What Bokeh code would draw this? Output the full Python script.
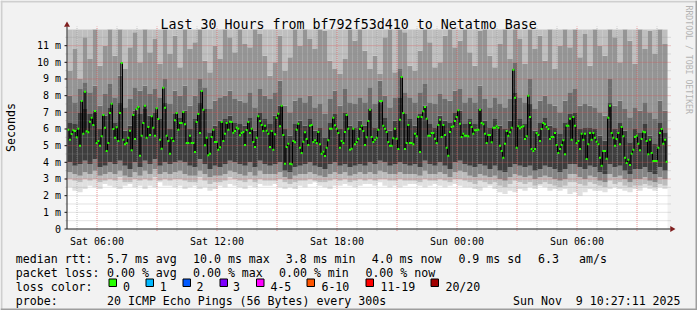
import math
from bokeh.plotting import figure
from bokeh.models import Range1d, Label
from bokeh.core.properties import value
from bokeh.embed import file_html
from bokeh.resources import INLINE

# ---------------- data ----------------
time_start_h = 4.525          # left edge of the graph, hours after Sat 00:00
span_h = 30.0
step_minutes = 5               # one median per 5-minute step
smoke_minutes = 15             # smoke resolution

median_ms = [
    # block 0
    5.96,5.36,5.7,5.92,5.88,5.5,6.02,5.0,7.68,5.72,
    8.24,5.86,5.8,6.44,6.68,6.24,7.08,5.16,5.28,5.0,
    5.56,6.84,6.08,4.68,5.16,6.96,7.52,6.0,5.48,6.1,
    5.28,6.96,9.96,5.36,5.08,5.16,5.48,5.9,4.72,6.84,
    5.4,7.2,7.32,4.4,5.6,6.36,7.4,5.48,6.12,5.64,
    6.76,6.08,5.6,7.24,6.6,5.36,4.82,8.48,7.28,5.6,
    # block 1
    5.28,4.52,5.44,5.28,6.52,6.96,5.96,6.36,6.36,7.02,
    6.28,5.16,5.16,5.6,5.16,5.16,4.62,6.42,6.9,5.76,
    8.28,7.16,5.02,5.48,4.42,4.52,5.52,5.96,5.22,5.22,
    4.76,4.9,6.42,5.28,5.72,6.36,5.96,6.44,6.42,5.78,
    5.88,6.08,6.02,5.62,5.76,5.82,5.04,5.94,6.42,5.76,
    6.02,5.22,4.92,5.48,6.76,6.48,6.24,5.88,6.2,5.9,
    # block 2
    5.72,4.92,5.88,4.76,5.68,6.68,6.92,6.16,7.4,5.64,
    3.92,4.92,5.12,3.92,3.88,5.28,5.2,5.96,6.32,4.88,
    4.56,5.24,5.8,5.4,5.04,6.2,6.24,5.22,5.32,5.16,
    5.82,5.08,4.52,4.64,4.38,4.88,5.32,6.02,6.02,6.68,
    6.22,6.02,5.76,4.88,5.28,5.16,5.82,6.84,6.02,4.76,
    4.82,6.02,5.08,5.22,5.42,6.0,6.2,5.88,5.04,5.5,
    # block 3
    6.48,7.16,5.52,5.22,5.36,5.48,5.96,7.68,7.68,6.2,
    6.02,5.82,5.22,5.0,5.0,5.44,6.02,5.42,4.8,6.56,
    9.12,6.96,4.8,5.16,6.24,5.16,5.16,5.08,5.72,5.56,
    6.72,4.62,6.72,7.06,7.32,6.62,5.6,5.6,5.76,5.76,
    5.42,5.16,6.24,6.56,5.52,6.24,5.64,4.88,4.4,5.82,
    6.12,6.16,6.48,6.72,7.12,6.32,5.52,5.72,5.6,5.6,
    # block 4
    5.56,6.36,6.12,5.72,5.92,5.92,5.96,7.16,6.36,6.28,
    5.72,5.16,5.64,5.64,5.2,6.08,6.08,6.16,6.08,5.0,
    4.68,4.28,5.12,5.88,5.6,5.8,6.08,9.56,7.88,4.88,
    6.16,6.04,6.12,6.16,5.4,5.56,8.0,6.72,4.8,4.68,
    4.8,5.76,5.64,5.28,6.0,6.36,6.28,6.12,6.0,5.4,
    5.52,5.52,5.76,5.04,4.56,4.8,5.04,5.32,4.48,6.2,
    # block 5
    6.2,6.62,5.36,6.72,6.2,5.16,5.28,4.8,5.72,5.36,
    5.72,4.2,5.08,5.76,5.36,5.76,5.48,5.24,5.08,4.28,
    3.8,4.68,4.68,4.22,6.68,7.4,5.76,5.48,5.0,5.4,
    5.76,5.08,6.12,5.56,4.28,3.96,4.16,3.84,4.52,4.76,
    5.52,5.6,5.12,4.72,5.4,5.84,5.8,5.28,4.48,5.36,
    4.56,4.08,4.08,4.08,4.88,5.76,6.0,5.12,5.36,4.04,
]

# smoke: ping-distribution boundaries per 15-minute column (ms)
ping_min = [
    2.5,2.3,2.2,2.4,2.6,2.5,2.4,2.7,2.6,2.5,2.4,2.6,2.7,2.5,2.6,2.4,2.6,2.5,2.8,2.6,
    2.6,2.5,2.6,2.4,2.5,2.6,2.4,2.5,2.3,2.4,2.6,2.5,2.7,2.6,2.5,2.4,2.6,2.5,2.7,2.6,
    2.6,2.7,2.5,2.4,2.5,2.4,2.6,2.5,2.7,2.8,2.6,2.5,2.4,2.6,2.6,2.7,2.6,2.5,2.6,2.7,
    2.7,2.6,2.8,2.6,2.5,2.6,2.5,2.6,2.7,2.7,2.6,2.5,2.6,2.7,2.6,2.5,2.6,2.7,2.6,2.5,
    2.5,2.4,2.3,2.5,2.6,2.4,2.2,2.1,2.3,2.2,2.4,2.3,2.5,2.4,2.6,2.5,2.3,2.4,2.3,2.4,
    2.1,2.2,2.0,2.2,2.4,2.3,2.3,2.2,2.4,2.5,2.4,2.3,2.2,2.4,2.3,2.5,2.4,2.3,2.5,2.4,
]
ping_p10 = [
    3.0,2.9,2.8,3.0,2.9,3.0,2.8,2.9,3.0,2.9,3.1,2.8,2.8,3.0,2.9,3.0,2.9,3.1,2.9,3.0,
    2.9,3.0,3.0,2.9,2.8,2.8,3.1,2.9,2.7,2.8,2.8,2.9,3.1,3.0,2.9,2.8,3.0,2.8,3.0,2.9,
    2.9,2.9,3.0,2.8,2.7,2.8,2.9,2.9,3.0,2.9,2.8,2.8,2.9,3.0,2.9,3.0,2.8,2.9,3.0,2.9,
    3.0,2.9,3.0,3.0,2.9,2.9,3.0,2.9,2.9,2.9,2.8,3.0,2.9,2.9,3.0,2.9,2.8,3.0,3.0,2.9,
    2.8,2.7,2.9,2.8,2.7,2.8,2.6,2.5,2.7,2.9,2.8,2.7,2.8,2.6,2.7,2.8,2.7,2.6,2.5,2.6,
    2.8,2.8,2.7,2.6,2.8,2.7,2.6,2.5,2.9,2.7,2.8,2.6,2.5,2.6,2.6,2.7,2.6,2.5,2.7,2.6,
]
ping_p20 = [
    3.4,3.3,3.2,3.4,3.3,3.5,3.2,3.3,3.4,3.3,3.5,3.2,3.1,3.4,3.2,3.5,3.3,3.6,3.3,3.4,
    3.3,3.4,3.5,3.3,3.2,3.2,3.5,3.3,3.1,3.2,3.2,3.3,3.5,3.4,3.3,3.2,3.4,3.2,3.5,3.3,
    3.3,3.3,3.4,3.1,3.0,3.2,3.3,3.3,3.4,3.3,3.2,3.1,3.3,3.4,3.3,3.4,3.2,3.3,3.4,3.3,
    3.4,3.3,3.5,3.4,3.3,3.3,3.4,3.3,3.3,3.3,3.2,3.5,3.3,3.3,3.4,3.3,3.1,3.4,3.5,3.4,
    3.2,3.1,3.3,3.2,3.1,3.2,3.0,2.9,3.1,3.3,3.2,3.1,3.2,3.0,3.1,3.2,3.1,3.0,2.9,3.0,
    3.3,3.3,3.1,3.0,3.2,3.1,2.9,2.8,3.3,3.1,3.2,3.0,2.8,3.0,3.0,3.1,2.9,2.8,3.1,3.0,
]
ping_p30 = [
    4.0,3.8,3.9,4.1,3.9,4.2,3.7,3.8,4.0,3.9,4.1,3.8,3.6,4.0,3.7,4.1,3.9,4.2,3.8,4.0,
    3.9,4.0,4.1,4.0,3.8,3.7,4.2,3.9,3.6,3.8,3.7,3.9,4.1,4.0,3.9,3.8,4.0,3.7,4.1,3.9,
    3.8,3.9,4.0,3.5,3.4,3.7,3.8,3.9,4.0,3.8,3.7,3.6,3.9,4.0,3.8,3.9,3.7,3.8,3.9,3.8,
    4.0,3.9,4.1,4.0,3.8,3.9,4.0,3.9,3.8,3.9,3.7,4.1,3.9,3.8,4.0,3.8,3.6,4.0,4.1,3.9,
    3.8,3.7,3.9,3.8,3.6,3.8,3.5,3.4,3.7,3.9,3.8,3.7,3.8,3.5,3.6,3.8,3.7,3.6,3.4,3.6,
    3.9,3.9,3.7,3.6,3.8,3.7,3.4,3.3,3.9,3.7,3.8,3.5,3.3,3.6,3.6,3.7,3.4,3.3,3.7,3.5,
]
ping_p70 = [
    6.4,6.3,7.0,7.2,6.9,7.0,6.0,6.8,7.3,6.4,7.6,5.9,6.2,7.1,6.9,7.2,6.8,7.0,6.6,7.6,
    6.0,6.9,6.7,7.1,6.0,6.6,7.6,7.2,5.8,6.2,6.5,6.6,6.8,6.4,6.3,6.2,6.7,5.9,7.0,6.6,
    6.3,6.8,7.4,6.0,5.6,6.3,6.5,6.2,6.6,5.9,6.1,5.5,6.4,6.9,6.0,7.0,6.2,6.1,6.5,6.2,
    7.2,6.1,7.6,6.7,5.9,6.5,7.9,6.9,6.6,6.2,6.9,7.4,6.3,6.1,6.8,6.5,6.4,7.0,7.1,6.3,
    6.6,6.3,7.2,6.5,6.1,6.6,6.2,6.0,6.5,8.2,6.6,6.3,7.5,5.9,6.4,6.7,6.2,6.1,5.7,6.4,
    6.9,7.0,6.0,6.1,6.1,6.0,5.6,5.3,7.6,6.0,6.4,5.9,5.2,6.0,5.8,6.3,5.6,5.1,6.4,5.8,
]
ping_p85 = [
    8.0,7.6,8.4,8.8,8.2,8.6,7.4,8.1,8.7,7.9,9.2,7.3,7.8,8.5,8.3,8.6,8.1,8.4,7.9,9.0,
    7.5,8.3,8.0,8.6,7.4,8.0,9.0,8.5,7.2,7.7,7.9,8.0,8.3,7.8,7.7,7.6,8.2,7.3,8.4,8.0,
    7.8,8.2,8.9,7.4,7.0,7.7,7.9,7.6,8.0,7.3,7.5,6.9,7.8,8.3,7.4,8.4,7.6,7.5,7.9,7.6,
    8.5,7.5,8.9,8.0,7.3,7.9,9.6,8.2,7.9,7.6,8.2,8.7,7.6,7.5,8.1,7.8,7.7,8.3,8.4,7.6,
    7.9,7.6,8.6,7.8,7.3,7.9,7.5,7.3,7.8,10.0,7.9,7.6,9.0,7.2,7.7,8.0,7.5,7.4,7.0,7.7,
    8.2,8.4,7.4,7.5,7.4,7.3,7.0,6.8,9.0,7.4,7.7,7.2,6.7,7.3,7.1,7.6,7.0,6.6,7.7,7.1,
]
ping_p95 = [
    9.5,10.8,9.0,11.5,10.2,12.5,9.8,11.0,12.5,10.4,12.5,9.6,10.9,11.8,10.0,12.2,10.6,11.4,9.9,12.5,
    10.5,11.6,9.7,12.5,10.8,11.2,12.5,10.1,9.4,11.0,10.2,12.0,11.5,10.6,12.3,11.1,10.9,12.5,11.7,10.4,
    9.2,10.0,11.6,9.5,10.3,12.2,11.0,12.5,11.4,10.8,12.5,11.9,10.1,9.6,9.3,10.2,12.0,11.3,12.5,10.7,
    9.6,10.4,9.3,11.5,12.5,9.4,12.5,11.8,9.8,9.5,10.7,12.4,11.2,9.7,10.0,11.6,12.5,10.9,11.3,12.2,
    10.6,9.8,11.9,12.5,10.4,9.7,11.1,12.5,10.2,12.5,11.4,9.9,12.5,10.8,11.6,10.1,12.3,9.6,11.0,12.5,
    10.9,12.5,10.3,11.7,9.8,12.5,11.0,10.4,12.5,11.5,10.0,12.2,11.3,9.9,12.5,10.8,11.9,10.5,12.4,11.1,
]
ping_max_ms = 13.0   # the largest pings run off the top of the graph

x_tick_hours = [6, 12, 18, 24, 30]
x_tick_labels = ["Sat 06:00", "Sat 12:00", "Sat 18:00", "Sun 00:00", "Sun 06:00"]
x_major_grid_hours = [6, 9, 12, 15, 18, 21, 24, 27, 30, 33]
x_minor_grid_hours = [h for h in range(5, 35) if h not in x_major_grid_hours]
y_tick_ms = list(range(0, 12))
y_tick_labels = ["0"] + [f"{v} m" for v in range(1, 12)]
y_major_grid_ms = [3, 4, 5, 6, 7, 8, 9, 10, 11]
y_minor_grid_ms = [v / 2 for v in range(1, 24) if v / 2 not in y_major_grid_ms]

loss_labels = ["0", "1", "2", "3", "4-5", "6-10", "11-19", "20/20"]
loss_colors = ["#26ff00", "#00b8ff", "#0059ff", "#7e00ff", "#ff00ff", "#ff5500", "#ff0000", "#a10000"]

# ---------------- layout of the rrdtool canvas ----------------
W, H = 697, 310
PLOT_L, PLOT_R = 67, 667        # graph area on the canvas (px)
PLOT_T, ZERO_Y = 29, 228.5
PX_PER_H = (PLOT_R - PLOT_L) / span_h
PX_PER_MS = 16.6667
y_top_ms = (ZERO_Y - PLOT_T) / PX_PER_MS

def hx(px):   # canvas px -> hours
    return time_start_h + (px - PLOT_L) / PX_PER_H

def my(py):   # canvas px -> ms
    return (ZERO_Y - py) / PX_PER_MS

FONT = "DejaVu Sans Mono"
p = figure(width=W, height=H, output_backend="svg", toolbar_location=None, title=None,
           x_range=Range1d(hx(0), hx(W)), y_range=Range1d(my(H), my(0)),
           x_axis_location=None, y_axis_location=None, min_border=0,
           background_fill_color="#f2f2f2", border_fill_color="#f2f2f2", outline_line_color=None)
p.grid.visible = False

# outer 3-D frame
p.quad(left=[hx(0), hx(0)], right=[hx(W), hx(2)], top=[my(0), my(0)], bottom=[my(2), my(H)],
       fill_color="#cfcfcf", line_color=None)
p.quad(left=[hx(0), hx(W - 2)], right=[hx(W), hx(W)], top=[my(H - 2), my(0)], bottom=[my(H), my(H)],
       fill_color="#9e9e9e", line_color=None)

# graph canvas
t_end = time_start_h + span_h
p.quad(left=[time_start_h], right=[t_end], bottom=[0], top=[y_top_ms], fill_color="#ffffff", line_color=None)

# smoke
col_h = smoke_minutes / 60.0
n_cols = len(ping_min)
col_x = [time_start_h + (i + 0.5) * col_h for i in range(n_cols)]
bounds = [ping_min, ping_p10, ping_p20, ping_p30, ping_p70, ping_p85, ping_p95, [ping_max_ms] * n_cols]
smoke_colors = ["#e0e0e0", "#bcbcbc", "#858585", "#3e3e3e", "#6d6d6d", "#959595", "#bfbfbf"]
for k in range(7):
    lo = [min(v, y_top_ms) for v in bounds[k]]
    hi = [min(v, y_top_ms) for v in bounds[k + 1]]
    p.vbar(x=col_x, width=col_h * 1.04, bottom=lo, top=hi, fill_color=smoke_colors[k], line_color=None)

# grid (drawn over the smoke like rrdtool), extended 2-3 px past the graph area
ext_t = 3 / PX_PER_MS
ext_r = 3 / PX_PER_H
def vgrid(hours, color, alpha):
    p.segment(x0=hours, x1=hours, y0=[my(ZERO_Y + 2)] * len(hours), y1=[y_top_ms + ext_t] * len(hours),
              line_color=color, line_alpha=alpha, line_dash="1 1", line_width=1)
def hgrid(vals, color, alpha):
    p.segment(x0=[hx(PLOT_L - 2)] * len(vals), x1=[t_end + ext_r] * len(vals), y0=vals, y1=vals,
              line_color=color, line_alpha=alpha, line_dash="1 1", line_width=1)
vgrid(x_minor_grid_hours, "#8f8f8f", 0.5)
hgrid(y_minor_grid_ms, "#8f8f8f", 0.5)
vgrid(x_major_grid_hours, "#de4f4f", 0.6)
hgrid(y_major_grid_ms, "#de4f4f", 0.6)

# median: black step line with loss-coloured marks
step_h = step_minutes / 60.0
med_x = [time_start_h + (i + 0.5) * step_h for i in range(len(median_ms))]
p.step(med_x, median_ms, mode="center", line_color="#000000", line_width=1)
p.rect(med_x, median_ms, width=2, height=2, width_units="screen", height_units="screen",
       fill_color=loss_colors[0], line_color=None)

# axes
AX = "#1f1f1f"
p.segment(x0=[hx(PLOT_L - 0.5)], x1=[hx(PLOT_R + 3)], y0=[0], y1=[0], line_color=AX, line_width=1)
p.segment(x0=[hx(PLOT_L - 0.5)], x1=[hx(PLOT_L - 0.5)], y0=[0], y1=[my(PLOT_T - 3)], line_color=AX, line_width=1)
p.segment(x0=[hx(PLOT_L - 3)] * len(y_tick_ms), x1=[hx(PLOT_L - 0.5)] * len(y_tick_ms),
          y0=y_tick_ms, y1=y_tick_ms, line_color=AX, line_width=1)
p.text(x=[hx(60.5)] * len(y_tick_ms), y=y_tick_ms, text=y_tick_labels, text_font=value(FONT),
       text_font_size=value("10px"), text_color="#000000", text_align="right", text_baseline="middle")
p.text(x=x_tick_hours, y=[my(240.7)] * len(x_tick_hours), text=x_tick_labels, text_font=value(FONT),
       text_font_size=value("10px"), text_color="#000000", text_align="center", text_baseline="alphabetic")
# arrows
p.scatter(x=[hx(PLOT_L - 0.5)], y=[my(24.5)], marker="triangle", size=6, fill_color="#801f1f", line_color=None)
p.scatter(x=[hx(671.5)], y=[0], marker="triangle", angle=-math.pi / 2, size=6, fill_color="#801f1f", line_color=None)

# ---------------- texts ----------------
def canvas_label(text, px, py, size, align="left", baseline="alphabetic", color="#000000",
                 angle=0.0, font=FONT):
    p.add_layout(Label(x=hx(px), y=my(py), text=text, text_font=font, text_font_size=size,
                       text_color=color, text_align=align, text_baseline=baseline, angle=angle))

canvas_label("Last 30 Hours from bf792f53d410 to Netatmo Base", 160, 24, "13.3px")
canvas_label("Seconds", 10, 127, "11.6px", align="center", baseline="middle", angle=math.pi / 2)
canvas_label("RRDTOOL / TOBI OETIKER", 688, 5, "8.2px", baseline="middle", color="#b4b4b4",
             angle=-math.pi / 2)

SZ = "11.6px"
row1 = [("median rtt:", 15.3), ("5.7 ms avg", 106.5), ("10.0 ms max", 192.5), ("3.8 ms min", 285.2),
        ("4.0 ms now", 371.2), ("0.9 ms sd", 457.9), ("6.3", 537.5), ("am/s", 578.6)]
row2 = [("packet loss:", 15.3), ("0.00 % avg", 106.5), ("0.00 % max", 192.5), ("0.00 % min", 278.5),
        ("0.00 % now", 364.9)]
row4 = [("probe:", 15.3), ("20 ICMP Echo Pings (56 Bytes) every 300s", 106.5),
        ("Sun Nov \u00a09 10:27:11 2025", 512.5)]
for txt, x in row1:
    canvas_label(txt, x, 258.3, SZ)
for txt, x in row2:
    canvas_label(txt, x, 272.3, SZ)
canvas_label("loss color:", 15.3, 286.3, SZ)
box_left = [108.5, 145.5, 182.5, 219.5, 256.0, 306.5, 365.5, 430.5]
text_left = [122.5, 159.2, 195.9, 232.5, 269.9, 320.9, 379.9, 444.9]
p.quad(left=[hx(b) for b in box_left], right=[hx(b + 7.5) for b in box_left],
       top=[my(278.5)] * len(box_left), bottom=[my(286.0)] * len(box_left),
       fill_color=loss_colors, line_color="#000000", line_width=1)
for lab, tx in zip(loss_labels, text_left):
    canvas_label(lab, tx, 286.3, SZ)
for txt, x in row4:
    canvas_label(txt, x, 300.0, SZ)

open("out.html", "w").write(file_html(p, INLINE))
